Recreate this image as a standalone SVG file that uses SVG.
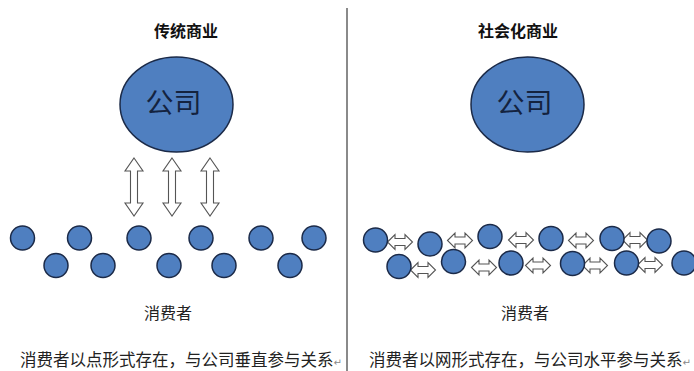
<svg xmlns="http://www.w3.org/2000/svg" width="694" height="371" viewBox="0 0 694 371">
<style>
  .t { font-family: "Noto Sans CJK SC", "Noto Sans", sans-serif; fill: #111; }
  .title { font-size: 16px; font-weight: bold; text-anchor: middle; }
  .co { font-size: 28px; fill: #14233f; text-anchor: middle; }
  .lbl { font-size: 16px; text-anchor: middle; fill: #222; }
  .cap { font-size: 16.5px; fill: #222; }
  .ret { font-family: "DejaVu Sans", sans-serif; font-size: 10px; fill: #888; }
  .big { fill: #4f7fc0; stroke: #1b2a48; stroke-width: 1.5; }
  .c { fill: #4f7fc0; stroke: #1b2a48; stroke-width: 1.5; }
  .arr { fill: #fff; stroke: #555; stroke-width: 1.1; stroke-linejoin: miter; }
</style>
<defs>
  <path id="varrow" d="M0,-29 L9,-16 L3.5,-16 L3.5,16 L9,16 L0,29 L-9,16 L-3.5,16 L-3.5,-16 L-9,-16 Z"/>
  <path id="harrow" d="M-12.5,0 L-5,-7.5 L-5,-3.5 L5,-3.5 L5,-7.5 L12.5,0 L5,7.5 L5,3.5 L-5,3.5 L-5,7.5 Z"/>
</defs>
<rect width="694" height="371" fill="#fff"/>
<line x1="347" y1="8" x2="347" y2="371" stroke="#8a8a8a" stroke-width="2"/>

<g id="title-left"><text class="t title" x="186" y="37">传统商业</text></g>
<g id="title-right"><text class="t title" x="518" y="37">社会化商业</text></g>

<g id="company-left">
  <ellipse class="big" cx="176.5" cy="104.5" rx="56.5" ry="47.5"/>
  <text class="t co" x="173.5" y="113">公司</text>
</g>
<g id="company-right">
  <ellipse class="big" cx="527.5" cy="104.5" rx="56.5" ry="47.5"/>
  <text class="t co" x="524.5" y="113">公司</text>
</g>

<g id="connectors">
  <use href="#varrow" class="arr" transform="translate(134,187)"/>
  <use href="#varrow" class="arr" transform="translate(172,187)"/>
  <use href="#varrow" class="arr" transform="translate(210,187)"/>
  <use href="#harrow" class="arr" transform="translate(400,242)"/>
  <use href="#harrow" class="arr" transform="translate(460,240.5)"/>
  <use href="#harrow" class="arr" transform="translate(521,240)"/>
  <use href="#harrow" class="arr" transform="translate(581,240.5)"/>
  <use href="#harrow" class="arr" transform="translate(635,240)"/>
  <use href="#harrow" class="arr" transform="translate(423,270)"/>
  <use href="#harrow" class="arr" transform="translate(484,267.5)"/>
  <use href="#harrow" class="arr" transform="translate(538,265.5)"/>
  <use href="#harrow" class="arr" transform="translate(595,265.5)"/>
  <use href="#harrow" class="arr" transform="translate(650,265)"/>
</g>

<g id="consumers-left">
  <circle class="c" cx="22.5" cy="238" r="12"/>
  <circle class="c" cx="79.5" cy="238" r="12"/>
  <circle class="c" cx="139" cy="238" r="12"/>
  <circle class="c" cx="201" cy="238" r="12"/>
  <circle class="c" cx="261" cy="238" r="12"/>
  <circle class="c" cx="314" cy="238" r="12"/>
  <circle class="c" cx="56" cy="265.5" r="12"/>
  <circle class="c" cx="103" cy="265.5" r="12"/>
  <circle class="c" cx="169" cy="265.5" r="12"/>
  <circle class="c" cx="224" cy="265.5" r="12"/>
  <circle class="c" cx="290" cy="265.5" r="12"/>
</g>

<g id="consumers-right">
  <circle class="c" cx="375.5" cy="240" r="12"/>
  <circle class="c" cx="430" cy="244" r="12"/>
  <circle class="c" cx="490" cy="236.5" r="12"/>
  <circle class="c" cx="551" cy="238.5" r="12"/>
  <circle class="c" cx="612" cy="238.5" r="12"/>
  <circle class="c" cx="659" cy="241" r="12"/>
  <circle class="c" cx="399" cy="266.5" r="12"/>
  <circle class="c" cx="453.5" cy="261.5" r="12"/>
  <circle class="c" cx="511" cy="263" r="12"/>
  <circle class="c" cx="572.5" cy="263.5" r="12"/>
  <circle class="c" cx="626.5" cy="263" r="12"/>
  <circle class="c" cx="684" cy="263" r="12"/>
</g>

<g id="label-left"><text class="t lbl" x="168" y="319">消费者</text></g>
<g id="label-right"><text class="t lbl" x="525" y="319">消费者</text></g>

<g id="caption-left"><text class="t cap" x="20" y="366">消费者以点形式存在，与公司垂直参与关系<tspan class="ret">↵</tspan></text></g>
<g id="caption-right"><text class="t cap" x="369" y="366">消费者以网形式存在，与公司水平参与关系<tspan class="ret">↵</tspan></text></g>
</svg>
